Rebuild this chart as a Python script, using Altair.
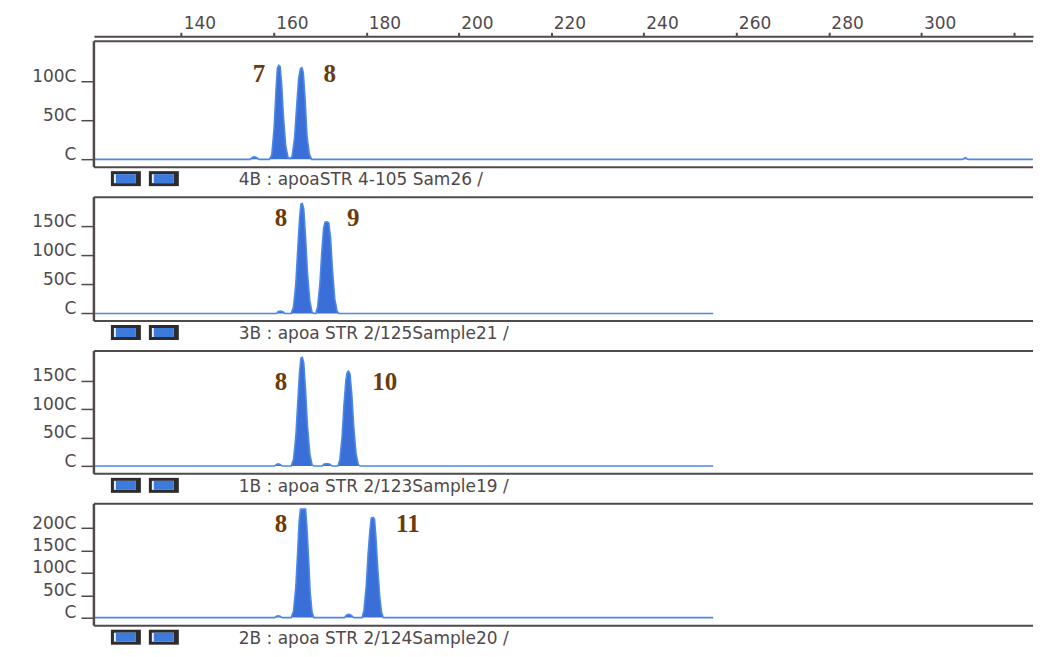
import altair as alt
import pandas as pd

# ---------------- data ----------------
X_TICKS = [140, 160, 180, 200, 220, 240, 260, 280, 300, 320]
X_DOMAIN = [121.15, 324.12]

TRACE1_X = [121.2, 154.9, 155.4, 155.8, 156.3, 156.8, 159.1, 159.6, 160.1, 160.5, 160.8,
            161.1, 161.4, 161.7, 162.1, 162.6, 163.1, 163.6, 164.0, 164.5, 165.0, 165.4,
            165.8, 166.1, 166.4, 166.8, 167.2, 167.7, 168.2, 308.9, 309.5, 310.1, 324.1]
TRACE1_Y = [0, 0, 25, 32, 25, 0, 0, 60, 400, 880, 1160,
            1200, 1185, 980, 560, 170, 25, 10, 40, 260, 700, 1030,
            1160, 1170, 1110, 760, 300, 70, 0, 0, 22, 0, 0]

TRACE2_X = [121.2, 160.6, 161.0, 161.5, 162.0, 162.4,
            163.8, 164.3, 164.8, 165.2, 165.6, 165.9, 166.2, 166.5, 166.9, 167.3, 167.8, 168.3, 168.7,
            169.1, 169.5, 170.0, 170.4, 170.8, 171.1, 171.5, 171.9, 172.3, 172.7, 173.2, 173.7, 174.1,
            255.0]
TRACE2_Y = [0, 0, 35, 40, 30, 0,
            0, 120, 520, 1100, 1640, 1880, 1890, 1800, 1300, 700, 220, 20, 0,
            0, 110, 520, 1050, 1470, 1570, 1577, 1560, 1300, 760, 250, 40, 0,
            0]

TRACE3_X = [121.2, 160.2, 160.6, 161.0, 161.4, 161.8,
            163.8, 164.3, 164.8, 165.2, 165.6, 165.9, 166.2, 166.5, 166.9, 167.3, 167.8, 168.3, 168.7,
            170.5, 170.9, 171.3, 171.8, 172.2, 172.6,
            173.9, 174.3, 174.8, 175.2, 175.6, 175.9, 176.2, 176.5, 176.9, 177.3, 177.8, 178.3, 178.7,
            255.0]
TRACE3_Y = [0, 0, 30, 40, 30, 0,
            0, 120, 530, 1110, 1660, 1900, 1912, 1820, 1320, 710, 220, 20, 0,
            0, 35, 40, 40, 30, 0,
            0, 110, 520, 1080, 1500, 1650, 1668, 1620, 1250, 700, 220, 25, 0,
            0]

TRACE4_X = [121.2, 160.2, 160.6, 161.0, 161.4, 161.8,
            163.8, 164.3, 164.8, 165.2, 165.5, 165.8, 166.9, 167.2, 167.6, 167.9, 168.3, 168.7,
            175.3, 175.7, 176.1, 176.5, 176.9, 177.3,
            179.1, 179.5, 180.0, 180.4, 180.8, 181.1, 181.5, 181.8, 182.1, 182.5, 182.9, 183.3, 183.7,
            255.0]
TRACE4_Y = [0, 0, 30, 40, 30, 0,
            0, 150, 700, 1500, 2150, 2430, 2430, 2000, 1200, 550, 120, 0,
            0, 50, 75, 70, 40, 0,
            0, 150, 700, 1400, 1950, 2230, 2245, 2200, 1800, 1100, 500, 120, 0,
            0]

TRACES_X = [TRACE1_X, TRACE2_X, TRACE3_X, TRACE4_X]
TRACES_Y = [TRACE1_Y, TRACE2_Y, TRACE3_Y, TRACE4_Y]

Y_DOMAINS = [[-100, 1508], [-130, 2000], [-137, 2025], [-182, 2548]]
Y_TICKS = [[0, 500, 1000], [0, 500, 1000, 1500], [0, 500, 1000, 1500], [0, 500, 1000, 1500, 2000]]

ALLELES = [["7", "8"], ["8", "9"], ["8", "10"], ["8", "11"]]
ALLELE_X = [[156.8, 172.1], [161.6, 177.2], [161.6, 184.0], [161.6, 189.0]]
ALLELE_Y = [[1087, 1087], [1640, 1640], [1471, 1471], [2086, 2086]]

STRIP_LABELS = [
    "4B : apoaSTR 4-105 Sam26 /",
    "3B : apoa STR 2/125Sample21 /",
    "1B : apoa STR 2/123Sample19 /",
    "2B : apoa STR 2/124Sample20 /",
]

# ---------------- style ----------------
W = 940
HEIGHTS = [126, 124, 123, 122]
FILL = "#3a6fd8"
LINE = "#4d88e6"
FRAME = "#514a4b"
TXT = "#4f494b"
BROWN = "#6b3b0d"
FONT = "DejaVu Sans"


def make_panel(i):
    H = HEIGHTS[i]
    xscale = alt.Scale(domain=X_DOMAIN, nice=False, zero=False)
    yscale = alt.Scale(domain=Y_DOMAINS[i], nice=False, zero=False)
    if i == 0:
        xaxis = alt.Axis(orient="top", values=X_TICKS,
                         labelExpr="datum.value > 310 ? '' : datum.label",
                         title=None, offset=5, domainColor=FRAME, domainWidth=2,
                         tickColor=FRAME, tickWidth=2, tickSize=4,
                         labelAlign="left", labelBaseline="alphabetic", labelPadding=4,
                         labelOffset=2, labelFontSize=17, labelColor=TXT, labelFont=FONT,
                         labelOverlap=False, labelFlush=False, grid=False)
    else:
        xaxis = None
    yaxis = alt.Axis(values=Y_TICKS[i], format="d",
                     labelExpr="substring(datum.label, 0, length(datum.label) - 1) + 'C'",
                     title=None, domain=False, tickColor=FRAME, tickWidth=1.5, tickSize=12,
                     offset=1, labelPadding=5, labelBaseline="alphabetic", labelFontSize=17,
                     labelColor=TXT, labelFont=FONT, grid=False, labelOverlap=False)
    X = alt.X("size:Q", scale=xscale, axis=xaxis)
    Y = alt.Y("rfu:Q", scale=yscale, axis=yaxis)

    df = pd.DataFrame({"size": TRACES_X[i], "rfu": TRACES_Y[i]})
    area = alt.Chart(df).mark_area(
        color=FILL, opacity=1, line={"color": LINE, "strokeWidth": 1.6}
    ).encode(x=X, y=Y, y2=alt.datum(0))

    lab = pd.DataFrame({"size": ALLELE_X[i], "rfu": ALLELE_Y[i], "allele": ALLELES[i]})
    text = alt.Chart(lab).mark_text(
        font="Liberation Serif", fontWeight="bold", fontSize=25, color=BROWN,
        align="center", baseline="middle"
    ).encode(x=X, y=Y, text="allele:N")

    one = alt.Chart(pd.DataFrame({"strip": [STRIP_LABELS[i]]}))
    layers = [area, text]
    # panel frame (open on the right, as in the cropped original)
    layers.append(one.mark_rule(color=FRAME, strokeWidth=2).encode(
        x=alt.value(0), x2=alt.value(W), y=alt.value(0)))
    layers.append(one.mark_rule(color=FRAME, strokeWidth=2).encode(
        x=alt.value(0), x2=alt.value(W), y=alt.value(H)))
    layers.append(one.mark_rule(color=FRAME, strokeWidth=2.5).encode(
        x=alt.value(0), y=alt.value(0), y2=alt.value(H)))
    for (bx0, bx1) in [(17, 47), (55, 85)]:
        layers.append(one.mark_rect(color="#2d2b2e").encode(
            x=alt.value(bx0), x2=alt.value(bx1), y=alt.value(H + 4), y2=alt.value(H + 19)))
        layers.append(one.mark_rect(color="#e6eef8").encode(
            x=alt.value(bx0 + 3), x2=alt.value(bx1 - 5), y=alt.value(H + 7), y2=alt.value(H + 16)))
        layers.append(one.mark_rect(color="#3c7bdc").encode(
            x=alt.value(bx0 + 5), x2=alt.value(bx1 - 5), y=alt.value(H + 7), y2=alt.value(H + 16)))
    layers.append(one.mark_text(
        align="left", baseline="alphabetic", font=FONT, fontSize=17, color=TXT
    ).encode(x=alt.value(145), y=alt.value(H + 18), text="strip:N"))

    return alt.layer(*layers).properties(width=W, height=H)


panels = [make_panel(i) for i in range(4)]

chart = alt.vconcat(*panels, spacing=30, bounds="flush").resolve_scale(
    x="independent", y="independent"
).properties(
    padding={"left": 23, "top": 5, "right": 0, "bottom": 0},
    background="white",
).configure_view(stroke="transparent")

chart.save("out.html", embed_options={"renderer": "svg", "actions": False})
